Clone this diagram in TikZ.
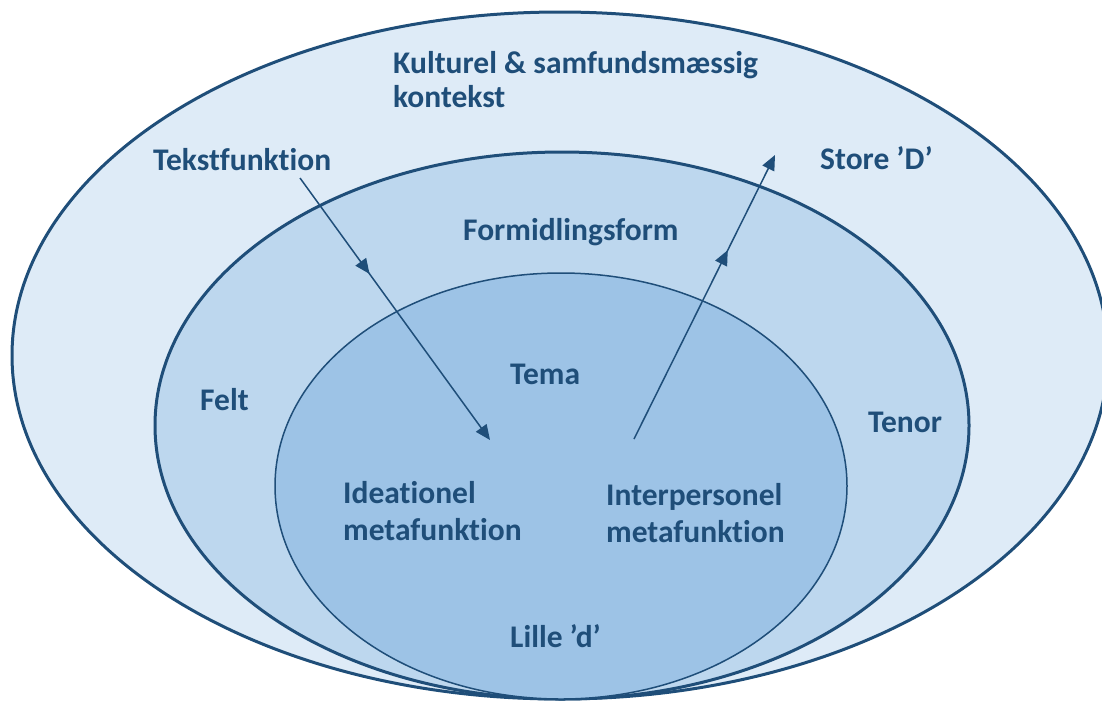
\documentclass[tikz,border=0pt]{standalone}
\usepackage{fontspec}
\setmainfont{Carlito}[Ligatures={NoCommon}]
\usetikzlibrary{arrows.meta,decorations.markings}
\definecolor{dkblue}{HTML}{1F4E79}
\definecolor{fillA}{HTML}{DEEBF7}
\definecolor{fillB}{HTML}{BDD7EE}
\definecolor{fillC}{HTML}{9DC3E6}
\begin{document}
\begin{tikzpicture}[x=1pt,y=-1pt,
  lbl/.style={font=\fontsize{31.5}{34}\selectfont\bfseries, text=dkblue, inner sep=0pt, anchor=base west},
  lbltwo/.style={lbl, font=\fontsize{31.5}{37}\selectfont\bfseries},
  ring/.style={draw=dkblue, line width=3pt},
  thinring/.style={draw=dkblue, line width=1.5pt},
  flow/.style={draw=dkblue, line width=1.5pt, -{Triangle[length=15pt,width=13pt]}},
]
\useasboundingbox (0,0) rectangle (1102,702);
\path[ring, fill=fillA] (560,355.5) ellipse [x radius=548pt, y radius=343.5pt];
\path[ring, fill=fillB] (562,425.5) ellipse [x radius=407pt, y radius=273.5pt];
\path[thinring, fill=fillC] (561,486) ellipse [x radius=286pt, y radius=213pt];

\node[lbl, align=left] (kultur) at (393,107) {Kulturel \& samfundsmæssig\\kontekst};
\node[lbl] (tekst) at (153,170) {Tekstfunktion};
\node[lbl] (store) at (820,169) {Store ’D’};
\node[lbl] (formid) at (463,240) {Formidlingsform};
\node[lbl] (felt) at (200,410) {Felt};
\node[lbl] (tenor) at (868,432) {Tenor};
\node[lbl] (tema) at (510,384) {Tema};
\node[lbltwo, align=left] (ideat) at (343,540) {Ideationel\\metafunktion};
\node[lbltwo, align=left] (interp) at (606,542) {Interpersonel\\metafunktion};
\node[lbl] (lille) at (510,647) {Lille ’d’};

\coordinate (a1s) at (300,178);
\coordinate (a1e) at (490,440);
\coordinate (a2s) at (634,439);
\coordinate (a2e) at (775,155);
\draw[flow, postaction={decorate}, decoration={markings, mark=at position 0.366 with {\arrow{Triangle[length=15pt,width=13pt]}}}] (a1s) -- (a1e);
\draw[flow, postaction={decorate}, decoration={markings, mark=at position 0.665 with {\arrow{Triangle[length=15pt,width=13pt]}}}] (a2s) -- (a2e);
\end{tikzpicture}
\end{document}
